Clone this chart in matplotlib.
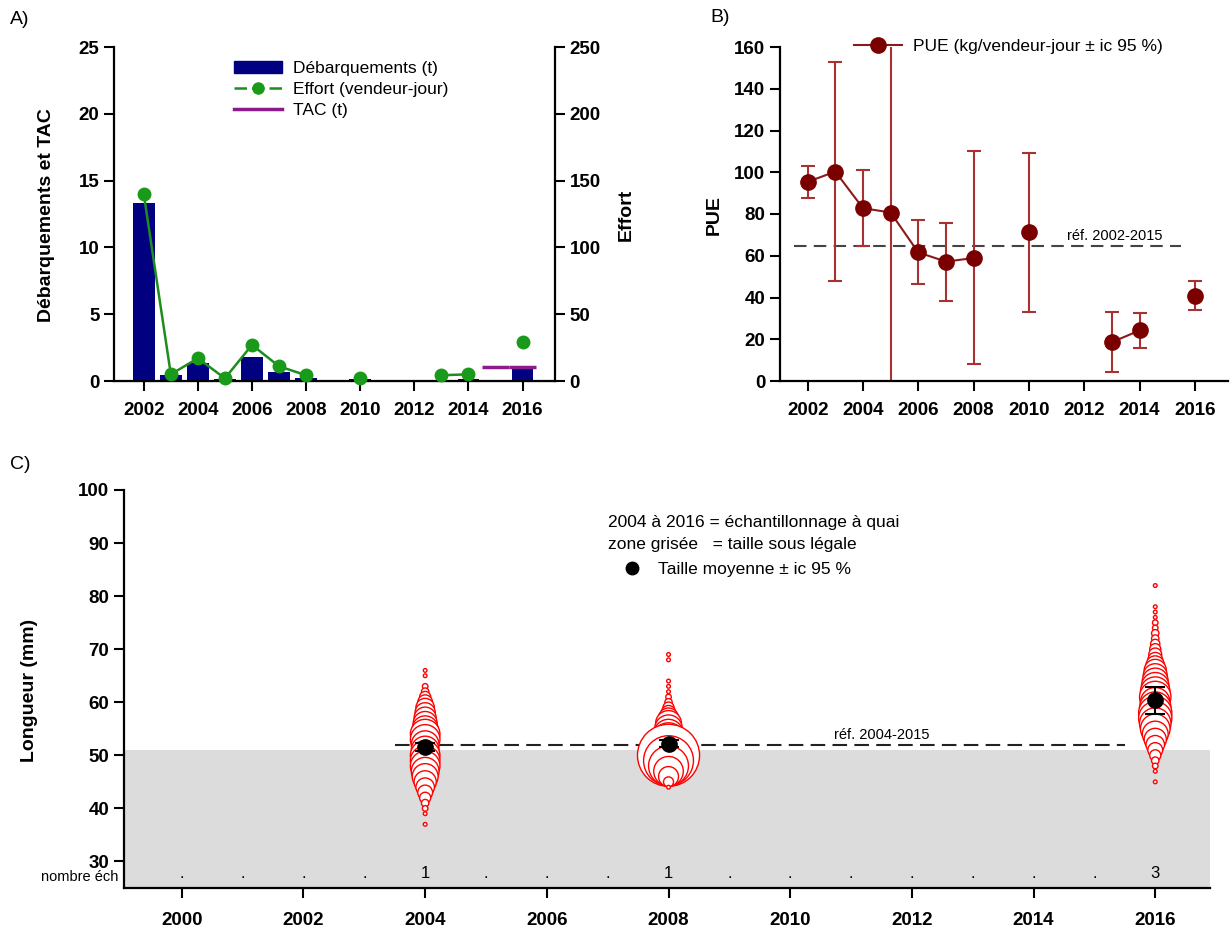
import numpy as np
import matplotlib as mpl
mpl.use('Agg')
import matplotlib.pyplot as plt
from matplotlib.lines import Line2D
from matplotlib.patches import Patch

plt.rcParams['font.family'] = ['Liberation Sans', 'DejaVu Sans']

nan = np.nan

# --- A) débarquements / effort / TAC
annees = list(range(2002, 2017))
debarquements = [13.3, 0.45, 1.37, 0.18, 1.8, 0.67, 0.25, 0, 0.18, 0, 0, 0.07, 0.13, 0, 0.9]
effort = [140, 5, 17, 2, 27, 11, 4.3, nan, 2, nan, nan, 4.3, 5, nan, 29]
tac_annees = [2015, 2016]
tac = [1.05, 1.05]

# --- B) PUE
pue = [95.4, 100.3, 82.8, 80.7, 61.6, 57.2, 58.9, nan, 71.2, nan, nan, 18.6, 24.2, nan, 40.9]
pue_bas = [87.9, 48.1, 64.5, -20, 46.5, 38.5, 8.0, nan, 33.0, nan, nan, 4.1, 15.9, nan, 34.1]
pue_haut = [103.0, 152.9, 101.3, 200, 77.1, 75.8, 110.0, nan, 109.0, nan, nan, 33.0, 32.5, nan, 48.1]
pue_ref = 64.8

# --- C) structure de taille
long_2004 = list(range(37, 67))
freq_2004 = [1, 0, 1, 1.5, 2, 3, 4, 5, 6, 7, 7.5, 8, 8, 8, 7.5, 7.5, 8, 8, 7, 6.5,
             6, 5.5, 5, 4, 3, 2, 1.5, 0, 1, 1]
long_2008 = list(range(44, 70))
freq_2008 = [1, 2.7, 5.4, 8, 10.8, 13.5, 16.8, 13, 10, 9, 8, 7.5, 7, 5.5, 4, 3, 2,
             1.5, 1, 1, 1, 0, 0, 0, 1, 1]
long_2016 = list(range(45, 83))
freq_2016 = [1, 0, 1, 1.5, 2, 3, 4, 5, 6, 7, 8, 8.5, 9, 9, 8.5, 8, 8.5, 8, 7.5, 7,
             6.5, 6, 5, 4, 3.5, 3, 2.5, 2, 2, 1.5, 1.5, 1, 1, 1, 0, 0, 0, 1]
annees_ech = [2004, 2008, 2016]
taille_moy = [51.6, 52.2, 60.4]
taille_bas = [50.9, 51.5, 57.8]
taille_haut = [52.3, 52.9, 62.9]
nb_ech = {2004: '1', 2008: '1', 2016: '3'}
taille_legale = 51
taille_ref = 52

W, H = 1230, 932
fig = plt.figure(figsize=(W / 100, H / 100), dpi=100)


def box(l, t, r, b):
    return [l / W, 1 - b / H, (r - l) / W, (b - t) / H]


def style(ax, fs=13.5, lw=1.6):
    for s in ['top', 'right']:
        ax.spines[s].set_visible(False)
    for s in ['left', 'bottom']:
        ax.spines[s].set_linewidth(lw)
    ax.tick_params(direction='out', length=7, width=1.5, labelsize=fs)
    for t in ax.get_xticklabels() + ax.get_yticklabels():
        t.set_fontweight('bold')


# ---------------- A
axA = fig.add_axes(box(114, 47, 555, 381))
axA.bar(annees, debarquements, width=0.8, color='#000080', zorder=2)
axA.hlines(tac, np.array(tac_annees) - 0.5, np.array(tac_annees) + 0.5,
           color='#8b1a8b', lw=2.5, zorder=3)
axA.set_xlim(2000.9, 2017.2)
axA.set_ylim(0, 25)
axA.set_xticks(range(2002, 2017, 2))
axA.set_yticks(range(0, 26, 5))
style(axA)
axA2 = axA.twinx()
axA2.plot(annees, effort, color='#1e8c1e', lw=1.8, marker='o', ms=9,
          mfc='#1a9a1a', mec='#1a9a1a', zorder=4, clip_on=False)
axA2.set_ylim(0, 250)
axA2.set_yticks(range(0, 251, 50))
axA2.spines['top'].set_visible(False)
axA2.spines['right'].set_linewidth(1.6)
axA2.spines['left'].set_visible(False)
axA2.tick_params(direction='out', length=7, width=1.5, labelsize=13.5)
for t in axA2.get_yticklabels():
    t.set_fontweight('bold')
axA.xaxis.set_tick_params(pad=8)

hA = [Patch(color='#000080'),
      Line2D([], [], color='#1e8c1e', lw=1.8, ls=(0, (5, 2)), marker='o', ms=8,
             mfc='#1a9a1a', mec='#1a9a1a'),
      Line2D([], [], color='#8b1a8b', lw=2.5)]
axA2.legend(hA, ['Débarquements (t)', 'Effort (vendeur-jour)', 'TAC (t)'],
            loc='upper left', bbox_to_anchor=(225 / W, 1 - 52 / H),
            bbox_transform=fig.transFigure, frameon=False, fontsize=12.5,
            handlelength=2.8, labelspacing=0.35, borderpad=0, handletextpad=0.6)

fig.text(47 / W, 1 - 215 / H, 'Débarquements et TAC', rotation=90, ha='center',
         va='center', fontsize=14, fontweight='bold')
fig.text(626 / W, 1 - 215 / H, 'Effort', rotation=90, ha='center', va='center',
         fontsize=14, fontweight='bold')
fig.text(10 / W, 1 - 20 / H, 'A)', fontsize=14, va='center')

# ---------------- B
axB = fig.add_axes(box(780, 47, 1228, 381))
pue_a = np.array(pue, dtype=float)
err = [pue_a - np.array(pue_bas), np.array(pue_haut) - pue_a]
axB.errorbar(annees, pue_a, yerr=err, fmt='none', ecolor='#a83232', elinewidth=1.5,
             capsize=5, capthick=1.5, zorder=2)
axB.plot(annees, pue_a, color='#8b1a1a', lw=1.5, marker='o', ms=11,
         mfc='#7a0000', mec='#7a0000', zorder=3, label='PUE (kg/vendeur-jour ± ic 95 %)')
axB.hlines(pue_ref, 2001.5, 2015.5, colors='#444444', linestyles=(0, (6, 3.5)), lw=1.5, zorder=1)
axB.text(2013.1, pue_ref + 1.5, 'réf. 2002-2015', ha='center', va='bottom', fontsize=10.5)
axB.set_xlim(2001, 2017.2)
axB.set_ylim(0, 160)
axB.set_xticks(range(2002, 2017, 2))
axB.set_yticks(range(0, 161, 20))
style(axB)
axB.xaxis.set_tick_params(pad=8)
axB.legend(loc='upper left', bbox_to_anchor=(845 / W, 1 - 30 / H),
           bbox_transform=fig.transFigure, frameon=False, fontsize=12.5,
           handlelength=2.8, borderpad=0, handletextpad=0.6)
fig.text(714 / W, 1 - 215 / H, 'PUE', rotation=90, ha='center', va='center',
         fontsize=14, fontweight='bold')
fig.text(710 / W, 1 - 18 / H, 'B)', fontsize=14, va='center')

# ---------------- C
axC = fig.add_axes(box(124, 490, 1210, 888))
axC.set_xlim(1999.05, 2016.9)
axC.set_ylim(25, 100)
axC.axhspan(25, taille_legale, color='#dcdcdc', lw=0, zorder=0)
k = 2.66
for an, lo, fr in [(2004, long_2004, freq_2004), (2008, long_2008, freq_2008),
                   (2016, long_2016, freq_2016)]:
    # du plus grand au plus petit -> effet "pile"
    lo = np.array(lo)[::-1]
    fr = np.array(fr, dtype=float)[::-1]
    axC.scatter(np.full(len(lo), an), lo, s=(k * fr) ** 2, facecolors='white',
                edgecolors='#ff0000', linewidths=1.0, zorder=3)
axC.hlines(taille_ref, 2003.5, 2015.5, colors='#222222', linestyles=(0, (7, 3.5)), lw=1.5, zorder=2)
axC.text(2011.5, taille_ref + 0.6, 'réf. 2004-2015', ha='center', va='bottom', fontsize=10.5)
tm = np.array(taille_moy)
axC.errorbar(annees_ech, tm, yerr=[tm - np.array(taille_bas), np.array(taille_haut) - tm],
             fmt='o', color='black', ms=11, elinewidth=1.5, capsize=7, capthick=1.5, zorder=5)
for an in range(2000, 2017):
    axC.text(an, 27.8, nb_ech.get(an, '.'), ha='center', va='center', fontsize=12)
axC.text(-0.005, 27.0, 'nombre éch', transform=axC.get_yaxis_transform(), ha='right',
         va='center', fontsize=10.5)
axC.set_xticks(range(2000, 2017, 2))
axC.set_yticks(range(30, 101, 10))
style(axC)
axC.xaxis.set_tick_params(pad=10)
axC.legend([Line2D([], [], ls='none', marker='o', color='black', ms=9)],
           ['Taille moyenne ± ic 95 %'], loc='center left',
           bbox_to_anchor=(615 / W, 1 - 569 / H), bbox_transform=fig.transFigure,
           frameon=False, fontsize=12.5, handlelength=1.0, borderpad=0, handletextpad=1.0)
fig.text(608 / W, 1 - 522 / H, '2004 à 2016 = échantillonnage à quai', fontsize=12.5, va='center')
fig.text(608 / W, 1 - 544 / H, 'zone grisée   = taille sous légale', fontsize=12.5, va='center')
fig.text(30 / W, 1 - 690 / H, 'Longueur (mm)', rotation=90, ha='center', va='center',
         fontsize=14, fontweight='bold')
fig.text(10 / W, 1 - 465 / H, 'C)', fontsize=14, va='center')

fig.savefig('out.png', dpi=100)
